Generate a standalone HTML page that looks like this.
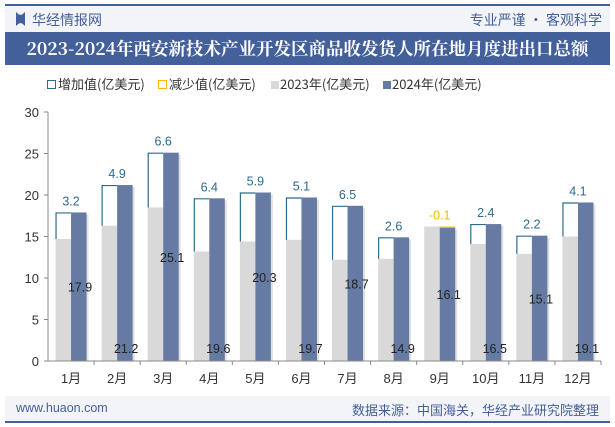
<!DOCTYPE html>
<html><head><meta charset="utf-8"><style>
body{margin:0;width:615px;height:427px;background:#fff;font-family:"Liberation Sans","Noto Sans CJK SC",sans-serif;overflow:hidden;position:relative}
.abs{position:absolute}
</style></head><body>
<div class="abs" style="left:5px;top:4px;width:605px;height:2px;background:#44609a"></div>
<div class="abs" style="left:5px;top:6px;width:605px;height:26px;background:#f3f4f8"></div>
<div class="abs" style="left:16px;top:12px;width:9px;height:14px;background:#44609a;clip-path:polygon(0 0,35% 20%,65% 20%,100% 0,100% 100%,65% 80%,35% 80%,0 100%)"></div>
<div class="abs" style="left:32px;top:10px;font-size:14px;color:#44609a;font-family:'Noto Sans CJK SC',sans-serif">华经情报网</div>
<div class="abs" style="right:13px;top:10px;font-size:14px;color:#44609a;font-family:'Noto Sans CJK SC',sans-serif">专业严谨 • 客观科学</div>
<div class="abs" style="left:5px;top:32px;width:605px;height:33px;background:#44609a;color:#fff;font-size:17.5px;font-weight:bold;text-align:center;line-height:33px;font-family:'Noto Serif CJK SC','Noto Sans CJK SC',serif;white-space:nowrap">2023-2024年西安新技术产业开发区商品收发货人所在地月度进出口总额</div>
<div class="abs" style="left:0;top:74px;width:615px;font-size:13px;color:#333;font-family:'Noto Sans CJK SC',sans-serif;white-space:nowrap">
<span class="abs" style="left:47px;top:0"><span style="display:inline-block;width:7px;height:7px;border:1px solid #2e6a8e;margin-right:2px"></span>增加值(亿美元)</span>
<span class="abs" style="left:158px;top:0"><span style="display:inline-block;width:7px;height:7px;border:1px solid #f5b800;margin-right:2px"></span>减少值(亿美元)</span>
<span class="abs" style="left:271px;top:0"><span style="display:inline-block;width:8px;height:8px;background:#d9d9d9;margin-right:1px"></span>2023年(亿美元)</span>
<span class="abs" style="left:383px;top:0"><span style="display:inline-block;width:8px;height:8px;background:#667ba3;margin-right:1px"></span>2024年(亿美元)</span>
</div>
<div class="abs" style="left:5px;top:396px;width:605px;height:26px;background:#f3f4f8"></div>
<div class="abs" style="left:5px;top:421px;width:605px;height:2px;background:#44609a"></div>
<div class="abs" style="left:16px;top:401px;font-size:12.5px;color:#44609a">www.huaon.com</div>
<div class="abs" style="right:16px;top:400px;font-size:13px;color:#44609a;font-family:'Noto Sans CJK SC',sans-serif">数据来源：中国海关，华经产业研究院整理</div>
<svg class="abs" style="left:0;top:0" width="615" height="427" id="chart"></svg>
<script>
const categories=["1月","2月","3月","4月","5月","6月","7月","8月","9月","10月","11月","12月"];
const values2023=[14.7,16.3,18.5,13.2,14.4,14.6,12.2,12.3,16.2,14.1,12.9,15.0];
const values2024=[17.9,21.2,25.1,19.6,20.3,19.7,18.7,14.9,16.1,16.5,15.1,19.1];
const changeLabels=["3.2","4.9","6.6","6.4","5.9","5.1","6.5","2.6","-0.1","2.4","2.2","4.1"];
const yTicks=[0,5,10,15,20,25,30];
const NS="http://www.w3.org/2000/svg";
const svg=document.getElementById('chart');
const x0=48,x1=601,yBase=361,yTop=112,yMax=30;
const y=v=>yBase-(v/yMax)*(yBase-yTop);
const bw=(x1-x0)/categories.length;
const cx=i=>x0+bw*(i+0.5);
function mk(t,a){const e=document.createElementNS(NS,t);for(const k in a)e.setAttribute(k,a[k]);svg.appendChild(e);return e;}
let e=mk('line',{x1:x0,x2:x0,y1:yTop,y2:yBase,stroke:'#888'});

yTicks.forEach(t=>{
 let l=mk('line',{x1:x0-4,x2:x0,y1:y(t),y2:y(t),stroke:'#888'});
 
 let tx=mk('text',{x:x0-9,y:y(t)+5,'text-anchor':'end','font-size':13,fill:'#333'});
 tx.textContent=t;
});
categories.forEach((c,i)=>{
 const c0=cx(i),w=15.5,a=values2023[i],b=values2024[i];
 let r=mk('rect',{x:c0-w,y:y(a),width:w,height:yBase-y(a),fill:'#d9d9d9'});
 
 let s=mk('rect',{x:c0+2,y:y(b)+2,width:w,height:yBase-y(b)-2,fill:'#000',opacity:0.12});
 
 let r2=mk('rect',{x:c0,y:y(b),width:w,height:yBase-y(b),fill:'#667ba3'});
 
 if(b>=a){
  let p=mk('path',{d:`M${c0-w+0.5},${y(a)} V${y(b)+0.5} H${c0}`,fill:'none',stroke:'#2e6a8e','stroke-width':1.2});
  
 }else{
  let p=mk('rect',{x:c0,y:y(a),width:w,height:Math.max(1.5,y(b)-y(a)),fill:'#f5b800'});
  
 }
 const top=Math.max(a,b);
 let cl=mk('text',{x:c0,y:y(top)-7,'text-anchor':'middle','font-size':12.5,fill:b>=a?'#2e6a8e':'#f5b800'});
 cl.textContent=changeLabels[i];
 const ly=(i%2===0)?y(b/2)+5:yBase-8;
 let vl=mk('text',{x:c0+9,y:ly,'text-anchor':'middle','font-size':12.5,fill:'#222'});
 vl.textContent=b.toFixed(1);
 let tk=mk('line',{x1:x0+bw*(i+1),x2:x0+bw*(i+1),y1:yBase,y2:yBase+4,stroke:'#888'});
 
 let xl=mk('text',{x:c0,y:yBase+22,'text-anchor':'middle','font-size':13,fill:'#333'});
 xl.textContent=c;
});
let xa=mk('line',{x1:x0,x2:x1,y1:yBase,y2:yBase,stroke:'#888'});

</script>
</body></html>
